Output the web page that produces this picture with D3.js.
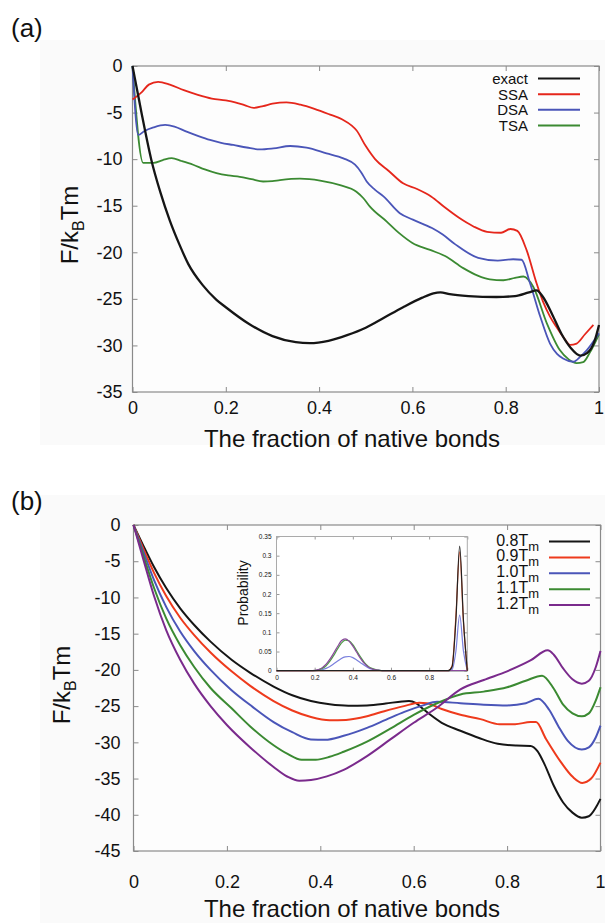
<!DOCTYPE html>
<html><head><meta charset="utf-8">
<script src="https://cdn.jsdelivr.net/npm/d3@7"></script>
<style>
body{margin:0;background:#fff}
svg{display:block}
text{font-family:"Liberation Sans",Arial,Helvetica,sans-serif;fill:#111}
</style></head>
<body><svg id="chart" width="605" height="923"></svg>
<script>
// ---------- Panel (a) data ----------
const seriesA = ["exact", "SSA", "DSA", "TSA"];
const exactA = [[0,0],[0.01,-2.6],[0.02,-5.2],[0.04,-10],[0.06,-13.6],[0.08,-16.6],[0.1,-19.1],[0.12,-21.3],[0.15,-23.5],[0.18,-25.1],[0.2,-25.9],[0.25,-27.7],[0.3,-29.0],[0.35,-29.65],[0.38,-29.75],[0.42,-29.5],[0.46,-28.9],[0.5,-28.1],[0.54,-27.0],[0.58,-25.9],[0.62,-24.9],[0.645,-24.4],[0.66,-24.3],[0.68,-24.5],[0.72,-24.7],[0.78,-24.8],[0.82,-24.7],[0.85,-24.3],[0.866,-24.1],[0.88,-24.8],[0.9,-26.7],[0.92,-28.8],[0.94,-30.3],[0.96,-31.1],[0.975,-30.8],[0.99,-29.6],[1.0,-27.8]];
const ssaA = [[0,-3.6],[0.02,-2.8],[0.035,-2.0],[0.055,-1.7],[0.08,-2.0],[0.11,-2.6],[0.14,-3.1],[0.17,-3.5],[0.2,-3.7],[0.22,-3.9],[0.24,-4.2],[0.26,-4.5],[0.28,-4.3],[0.3,-4.05],[0.33,-3.9],[0.36,-4.15],[0.39,-4.6],[0.42,-5.15],[0.45,-5.75],[0.47,-6.4],[0.48,-6.9],[0.5,-8.6],[0.52,-10.0],[0.55,-11.3],[0.58,-12.6],[0.61,-13.2],[0.64,-14.0],[0.67,-15.2],[0.7,-16.3],[0.73,-17.2],[0.76,-17.8],[0.79,-17.9],[0.81,-17.5],[0.825,-17.7],[0.845,-19.8],[0.866,-23.3],[0.88,-25.3],[0.895,-26.9],[0.91,-28.1],[0.925,-29.2],[0.938,-29.95],[0.952,-29.8],[0.97,-28.8],[0.988,-27.8]];
const dsaA = [[0,0],[0.0125,-7.4],[0.025,-7.0],[0.045,-6.6],[0.07,-6.33],[0.09,-6.5],[0.116,-7.05],[0.14,-7.5],[0.166,-7.94],[0.19,-8.25],[0.216,-8.48],[0.245,-8.75],[0.273,-8.95],[0.302,-8.84],[0.338,-8.59],[0.373,-8.77],[0.416,-9.38],[0.452,-9.91],[0.477,-10.6],[0.49,-11.4],[0.502,-12.4],[0.52,-13.3],[0.538,-14.0],[0.573,-15.8],[0.601,-16.5],[0.642,-17.4],[0.665,-18.1],[0.692,-19.15],[0.741,-20.6],[0.783,-20.9],[0.816,-20.75],[0.834,-20.8],[0.852,-23.3],[0.874,-26.9],[0.895,-29.8],[0.91,-30.9],[0.923,-31.4],[0.945,-31.75],[0.96,-31.2],[0.974,-30.5],[1.0,-28.7]];
const tsaA = [[0,0],[0.023,-10.4],[0.045,-10.4],[0.065,-10.1],[0.084,-9.9],[0.105,-10.2],[0.13,-10.6],[0.155,-11.1],[0.18,-11.5],[0.205,-11.75],[0.23,-11.9],[0.255,-12.15],[0.28,-12.4],[0.3,-12.35],[0.316,-12.25],[0.359,-12.1],[0.402,-12.3],[0.445,-12.8],[0.48,-13.5],[0.495,-14.2],[0.509,-15.1],[0.545,-16.7],[0.573,-18.0],[0.6,-19.0],[0.638,-19.75],[0.67,-20.4],[0.709,-21.7],[0.74,-22.5],[0.766,-22.9],[0.795,-23.0],[0.82,-22.75],[0.838,-22.6],[0.859,-23.7],[0.888,-27.6],[0.916,-30.5],[0.935,-31.5],[0.952,-31.9],[0.966,-31.8],[0.98,-30.8],[1.0,-28.8]];
const yTicksA = [0,-5,-10,-15,-20,-25,-30,-35];

// ---------- Panel (b) data ----------
const seriesB = ["0.8", "0.9", "1.0", "1.1", "1.2"];
const t08 = [[0,0],[0.02,-2.7],[0.044,-5.8],[0.07,-8.7],[0.1,-11.5],[0.13,-13.8],[0.165,-16.1],[0.21,-18.6],[0.25,-20.4],[0.3,-22.3],[0.34,-23.5],[0.38,-24.3],[0.42,-24.75],[0.46,-24.95],[0.5,-24.9],[0.54,-24.65],[0.575,-24.35],[0.59,-24.3],[0.605,-24.6],[0.62,-25.4],[0.66,-27.3],[0.7,-28.4],[0.74,-29.4],[0.78,-30.2],[0.82,-30.45],[0.85,-30.5],[0.865,-31.2],[0.88,-33.0],[0.9,-36.0],[0.92,-38.3],[0.94,-39.7],[0.96,-40.4],[0.975,-40.2],[0.99,-39.0],[1.0,-37.8]];
const t09 = [[0,0],[0.02,-3.1],[0.044,-6.6],[0.07,-9.8],[0.1,-12.8],[0.13,-15.2],[0.165,-17.6],[0.21,-20.2],[0.25,-22.2],[0.3,-24.3],[0.34,-25.6],[0.38,-26.5],[0.42,-26.95],[0.455,-26.9],[0.5,-26.4],[0.537,-25.7],[0.579,-25.0],[0.612,-24.55],[0.628,-24.6],[0.66,-25.4],[0.7,-26.2],[0.743,-26.8],[0.784,-27.5],[0.817,-27.5],[0.85,-27.2],[0.862,-27.2],[0.883,-29.5],[0.916,-32.8],[0.941,-34.8],[0.961,-35.6],[0.98,-35.0],[1.0,-32.8]];
const t10 = [[0,0],[0.02,-3.5],[0.044,-7.6],[0.07,-11.3],[0.1,-14.7],[0.13,-17.4],[0.165,-20.0],[0.21,-22.8],[0.255,-25.1],[0.3,-27.2],[0.34,-28.6],[0.38,-29.6],[0.41,-29.65],[0.45,-29.1],[0.5,-28.0],[0.54,-26.9],[0.58,-25.8],[0.62,-24.9],[0.65,-24.4],[0.7,-24.6],[0.75,-24.8],[0.8,-24.9],[0.84,-24.6],[0.867,-24.0],[0.89,-25.5],[0.91,-27.8],[0.93,-29.8],[0.96,-31.0],[0.975,-30.7],[0.99,-29.3],[1.0,-27.7]];
const t11 = [[0,0],[0.02,-4.0],[0.044,-8.7],[0.07,-12.9],[0.1,-16.6],[0.13,-19.6],[0.165,-22.5],[0.21,-25.3],[0.25,-27.8],[0.3,-30.4],[0.33,-31.6],[0.36,-32.4],[0.39,-32.4],[0.42,-32.0],[0.45,-31.3],[0.5,-29.9],[0.55,-28.1],[0.6,-26.2],[0.65,-24.6],[0.7,-23.4],[0.75,-23.0],[0.8,-22.4],[0.84,-21.5],[0.875,-20.8],[0.9,-22.6],[0.92,-24.8],[0.94,-26.0],[0.96,-26.4],[0.975,-26.0],[0.99,-24.2],[1.0,-22.4]];
const t12 = [[0,0],[0.02,-4.5],[0.044,-9.8],[0.07,-14.5],[0.1,-18.6],[0.13,-21.9],[0.165,-25.0],[0.2,-27.6],[0.25,-30.7],[0.3,-33.4],[0.33,-34.75],[0.355,-35.3],[0.38,-35.2],[0.414,-34.7],[0.45,-33.8],[0.5,-31.9],[0.55,-29.6],[0.6,-27.3],[0.65,-25.2],[0.7,-22.7],[0.75,-21.4],[0.8,-20.2],[0.85,-18.7],[0.887,-17.3],[0.9,-17.9],[0.92,-19.8],[0.94,-21.3],[0.96,-21.9],[0.975,-21.5],[0.99,-19.6],[1.0,-17.4]];
const yTicksB = [0,-5,-10,-15,-20,-25,-30,-35,-40,-45];
const xTicks = [0,0.2,0.4,0.6,0.8,1];

// ---------- Inset (probability) data ----------
const pX   = [0,0.18,0.2,0.22,0.24,0.26,0.28,0.3,0.32,0.34,0.36,0.38,0.4,0.42,0.44,0.46,0.48,0.5,0.52,0.54,0.56,0.9,0.92,0.94,0.96,0.98,1.0];
const p08  = [0,0,0,0,0,0,0,0,0,0,0,0,0,0,0,0,0,0,0,0,0,0,0.01,0.13,0.325,0.13,0];
const p09  = [0,0,0,0,0,0,0,0,0,0,0,0,0,0,0,0,0,0,0,0,0,0,0.012,0.14,0.31,0.125,0];
const p10  = [0,0,0,0.001,0.003,0.006,0.011,0.018,0.025,0.032,0.036,0.037,0.034,0.028,0.021,0.014,0.008,0.004,0.002,0.001,0,0,0.003,0.05,0.145,0.05,0];
const p11  = [0,0,0,0.002,0.006,0.013,0.025,0.04,0.057,0.072,0.08,0.078,0.068,0.052,0.036,0.022,0.012,0.006,0.003,0.001,0,0,0,0,0,0,0];
const p12  = [0,0,0.001,0.003,0.008,0.017,0.03,0.046,0.063,0.078,0.083,0.077,0.064,0.048,0.032,0.019,0.01,0.005,0.002,0.001,0,0,0,0,0,0,0];
const pYTicks = [0,0.05,0.1,0.15,0.2,0.25,0.3,0.35];
const pXTicks = [0,0.2,0.4,0.6,0.8,1];

// ---------- drawing ----------
const svg = d3.select("#chart");
const FRAME = "#8a8a8a";

function frameAxes(g, x, y, yTicks, opt) {
  const [x0, x1] = x.range(), [y1, y0] = y.range();
  const ax = g.append("g");
  ax.append("g").attr("transform", `translate(${x0},0)`)
    .call(d3.axisLeft(y).tickValues(yTicks).tickSize(-opt.ts).tickPadding(opt.ypad).tickFormat(d => String(d)));
  ax.append("g").attr("transform", `translate(${x1},0)`)
    .call(d3.axisRight(y).tickValues(yTicks).tickSize(-opt.ts).tickFormat(""));
  const bx = ax.append("g").attr("transform", `translate(0,${y1})`)
    .call(d3.axisBottom(x).tickValues(xTicks).tickSize(-opt.ts).tickPadding(opt.xpad).tickFormat(d => String(d)));
  ax.append("g").attr("transform", `translate(0,${y0})`)
    .call(d3.axisTop(x).tickValues(xTicks).tickSize(-opt.ts).tickFormat(""));
  ax.selectAll(".domain").remove();
  ax.selectAll(".tick line").attr("stroke", FRAME).attr("stroke-width", 1);
  ax.selectAll(".tick text").attr("font-size", opt.fs).attr("fill", "#111")
    .attr("font-family", '"Liberation Sans",Arial,sans-serif');
  // keep the last label ("1") inside the page
  bx.selectAll(".tick text").filter(d => d === 1).attr("text-anchor", "end").attr("dx", 4.5);
  g.append("rect").attr("x", x0).attr("y", y0).attr("width", x1 - x0).attr("height", y1 - y0)
    .attr("fill", "none").attr("stroke", FRAME).attr("stroke-width", 1.2);
}

function yTitle(g, xpos, ypos) {
  const t = g.append("text").attr("transform", `translate(${xpos},${ypos}) rotate(-90)`)
    .attr("text-anchor", "middle").attr("font-size", 24);
  t.append("tspan").text("F/k");
  t.append("tspan").attr("dy", 6).attr("font-size", 16).text("B");
  t.append("tspan").attr("dy", -6).text("Tm");
}

const line = (x, y) => d3.line().x(d => x(d[0])).y(d => y(d[1])).curve(d3.curveMonotoneX);

// faint page tint like the scanned figure
svg.append("rect").attr("x", 40).attr("y", 40).attr("width", 565).attr("height", 405).attr("fill", "#fafafa");
svg.append("rect").attr("x", 40).attr("y", 495).attr("width", 565).attr("height", 428).attr("fill", "#fafafa");

// ===== Panel (a) =====
{
  const g = svg.append("g");
  const x = d3.scaleLinear().domain([0, 1]).range([132.5, 599]);
  const y = d3.scaleLinear().domain([-35, 0]).range([392, 66]);
  g.append("rect").attr("x", 132.5).attr("y", 66).attr("width", 466.5).attr("height", 326).attr("fill", "#fdfdfd");
  frameAxes(g, x, y, yTicksA, {ts: 5, ypad: 10, xpad: 9, fs: 18});
  const colA = {exact: "#151515", SSA: "#e5261b", DSA: "#4a55b8", TSA: "#3b8a32"};
  const dataA = {exact: exactA, SSA: ssaA, DSA: dsaA, TSA: tsaA};
  ["TSA", "DSA", "SSA", "exact"].forEach(k => {
    g.append("path").datum(dataA[k]).attr("d", line(x, y)).attr("fill", "none")
      .attr("stroke", colA[k]).attr("stroke-width", k === "exact" ? 2.3 : 1.8).attr("stroke-linejoin", "round");
  });
  const legY = d3.scalePoint().domain(seriesA).range([78.5, 125.5]);
  seriesA.forEach(k => {
    g.append("text").attr("x", 528).attr("y", legY(k) + 5.5).attr("text-anchor", "end").attr("font-size", 15).attr("fill", "#222").text(k);
    g.append("line").attr("x1", 538).attr("x2", 580).attr("y1", legY(k)).attr("y2", legY(k))
      .attr("stroke", colA[k]).attr("stroke-width", 2);
  });
  yTitle(g, 78, 225);
  g.append("text").attr("x", 352).attr("y", 447).attr("text-anchor", "middle").attr("font-size", 24).text("The fraction of native bonds");
  g.append("text").attr("x", 11).attr("y", 37).attr("font-size", 26)
    .attr("font-family", '"Liberation Serif","Times New Roman",serif').text("(a)");
}

// ===== Panel (b) =====
{
  const g = svg.append("g");
  const x = d3.scaleLinear().domain([0, 1]).range([133.5, 600.5]);
  const y = d3.scaleLinear().domain([-45, 0]).range([851, 525]);
  g.append("rect").attr("x", 133.5).attr("y", 525).attr("width", 467).attr("height", 326).attr("fill", "#fdfdfd");
  frameAxes(g, x, y, yTicksB, {ts: 5, ypad: 13, xpad: 24, fs: 18});
  const colB = {"0.8": "#151515", "0.9": "#ee3a1c", "1.0": "#4a55b8", "1.1": "#3b8a32", "1.2": "#7a2a8c"};
  const dataB = {"0.8": t08, "0.9": t09, "1.0": t10, "1.1": t11, "1.2": t12};
  seriesB.forEach(k => {
    g.append("path").datum(dataB[k]).attr("d", line(x, y)).attr("fill", "none")
      .attr("stroke", colB[k]).attr("stroke-width", 2).attr("stroke-linejoin", "round");
  });
  const legY = d3.scalePoint().domain(seriesB).range([541.5, 605]);
  seriesB.forEach(k => {
    const t = g.append("text").attr("x", 539).attr("y", legY(k) + 4).attr("text-anchor", "end").attr("font-size", 16).attr("fill", "#222");
    t.append("tspan").text(k + "T");
    t.append("tspan").attr("dy", 5).attr("font-size", 13).text("m");
    g.append("line").attr("x1", 549).attr("x2", 590).attr("y1", legY(k)).attr("y2", legY(k))
      .attr("stroke", colB[k]).attr("stroke-width", 2);
  });
  yTitle(g, 70, 685);
  g.append("text").attr("x", 352).attr("y", 917).attr("text-anchor", "middle").attr("font-size", 24).text("The fraction of native bonds");
  g.append("text").attr("x", 11).attr("y", 510).attr("font-size", 26)
    .attr("font-family", '"Liberation Serif","Times New Roman",serif').text("(b)");

  // ----- inset -----
  const ix = d3.scaleLinear().domain([0, 1]).range([276.5, 467.3]);
  const iy = d3.scaleLinear().domain([0, 0.35]).range([670.7, 536.5]);
  const ig = g.append("g");
  ig.append("rect").attr("x", 276.5).attr("y", 536.5).attr("width", 190.8).attr("height", 134.2).attr("fill", "#fff");
  const ia = ig.append("g");
  ia.append("g").attr("transform", "translate(276.5,0)")
    .call(d3.axisLeft(iy).tickValues(pYTicks).tickSize(-3).tickPadding(5).tickFormat(d => String(+d.toFixed(2))));
  ia.append("g").attr("transform", "translate(467.3,0)")
    .call(d3.axisRight(iy).tickValues(pYTicks).tickSize(-3).tickFormat(""));
  ia.append("g").attr("transform", "translate(0,670.7)")
    .call(d3.axisBottom(ix).tickValues(pXTicks).tickSize(-3).tickPadding(5).tickFormat(d => String(d)));
  ia.append("g").attr("transform", "translate(0,536.5)")
    .call(d3.axisTop(ix).tickValues(pXTicks).tickSize(-3).tickFormat(""));
  ia.selectAll(".domain").remove();
  ia.selectAll(".tick line").attr("stroke", "#999");
  ia.selectAll(".tick text").attr("font-size", 6.5).attr("fill", "#333");
  ig.append("rect").attr("x", 276.5).attr("y", 536.5).attr("width", 190.8).attr("height", 134.2)
    .attr("fill", "none").attr("stroke", "#aaa").attr("stroke-width", 1);
  ig.append("text").attr("transform", "translate(248,593) rotate(-90)").attr("text-anchor", "middle")
    .attr("font-size", 14).attr("fill", "#333").text("Probability");
  const pCol = {"0.8": "#222", "0.9": "#ee5a30", "1.0": "#7a80dd", "1.1": "#4f9a48", "1.2": "#8a4a9c"};
  const pData = {"0.8": p08, "0.9": p09, "1.0": p10, "1.1": p11, "1.2": p12};
  const pl = d3.line().x((d, i) => ix(pX[i])).y(d => iy(d)).curve(d3.curveMonotoneX);
  ["1.0", "1.1", "1.2", "0.9", "0.8"].forEach(k => {
    ig.append("path").datum(pData[k]).attr("d", pl).attr("fill", "none")
      .attr("stroke", pCol[k]).attr("stroke-width", 1.2);
  });
}
</script></body></html>
